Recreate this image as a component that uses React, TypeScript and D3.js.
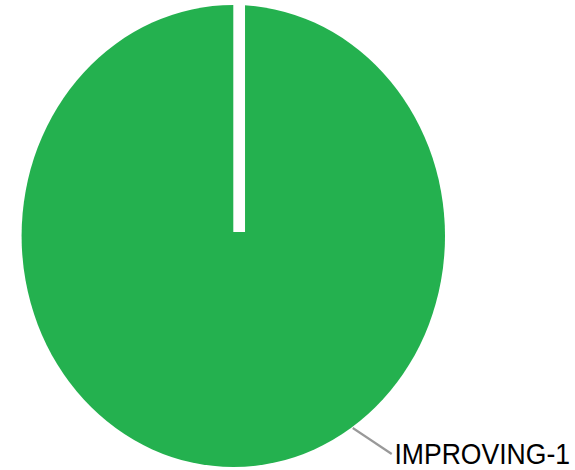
import React from 'react';
import * as d3 from 'd3';

// chart data
const categories = ['IMPROVING-1'];
const values = [1];
const colors = ['#24B14F'];

const W = 575;
const H = 470;

export default function App() {
  // the original chart is stretched horizontally, so draw a circle and squash it
  const r = 231;
  const sx = 0.9165;
  const cx = 233.3;
  const cy = 236;

  const pie = d3.pie<number>().sort(null).value((d) => d);
  const arcs = pie(values);
  const arc = d3.arc<d3.PieArcDatum<number>>().innerRadius(0).outerRadius(r);

  // separator at the start of the first slice
  const a0 = arcs[0].startAngle;
  const gapW = 12.8;
  const gx = gapW / 2;

  // label leader line angle
  const labelAngle = 2.545;
  const p1 = [Math.sin(labelAngle) * (r + 1), -Math.cos(labelAngle) * (r + 1)];
  const p2 = [p1[0] + 42.5, p1[1] + 26];

  return (
    <svg
      width={W}
      height={H}
      style={{ position: 'absolute', left: 0, top: 0, background: '#fff' }}
    >
      <g transform={`translate(${cx},${cy}) scale(${sx},1)`}>
        {arcs.map((d, i) => (
          <path key={categories[i]} d={arc(d) || ''} fill={colors[i]} />
        ))}
        <line
          x1={gx + Math.sin(a0) * 0}
          y1={-4}
          x2={gx + Math.sin(a0) * (r + 10)}
          y2={-Math.cos(a0) * (r + 10)}
          stroke="#fff"
          strokeWidth={gapW}
        />
        <line
          x1={p1[0]}
          y1={p1[1]}
          x2={p2[0]}
          y2={p2[1]}
          stroke="#999"
          strokeWidth={2.4}
        />
        <text
          x={p2[0] + 3}
          y={p2[1] + 10}
          fontFamily="'Liberation Sans', Arial, sans-serif"
          fontSize={29}
          fill="#000"
        >
          {categories[0]}
        </text>
      </g>
    </svg>
  );
}
